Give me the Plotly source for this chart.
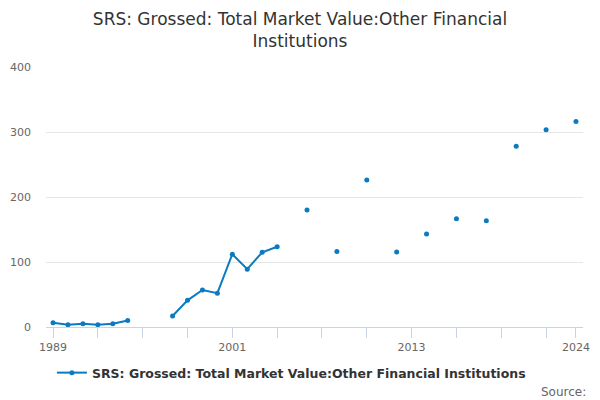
import plotly.graph_objects as go

years = list(range(1989, 2025))
values = [6.5, 3.5, 5, 3.5, 5, 10,
          None, None,
          17, 41, 57, 52, 112, 89, 115, 123.5,
          None, 180, None, 116, None, 226, None, 115.5, None, 143,
          None, 166.5, None, 163.5, None, 278, None, 303.5, None, 316]
tick_years = list(range(1989, 2023, 3)) + [2024]
tick_labels = [str(y) if y in (1989, 2001, 2013, 2024) else "" for y in tick_years]

name = "SRS: Grossed: Total Market Value:Other Financial Institutions"
blue = "#0a7bc1"

fig = go.Figure(go.Scatter(
    x=years, y=values, name=name,
    mode="lines+markers",
    line=dict(color=blue, width=2),
    marker=dict(color=blue, size=5),
    connectgaps=False,
))

fig.update_layout(
    width=600, height=400,
    paper_bgcolor="white", plot_bgcolor="white",
    font=dict(family="DejaVu Sans", color="#666666"),
    margin=dict(l=46, r=17, t=67, b=73, autoexpand=False),
    title=dict(
        text="SRS: Grossed: Total Market Value:Other Financial<br>Institutions",
        x=0.5, xanchor="center", y=0.938, yanchor="middle",
        font=dict(size=17, color="#333333"),
    ),
    showlegend=True,
    legend=dict(
        orientation="h", xref="container", yref="container",
        x=0.0865, xanchor="left", y=0.0675, yanchor="middle",
        itemwidth=30,
        font=dict(size=12.5, color="#333333", weight="bold"),
    ),
    xaxis=dict(
        range=[1988.53, 2024.47], automargin=False,
        tickmode="array", tickvals=tick_years, ticktext=tick_labels,
        ticks="outside", ticklen=10, tickcolor="#c8d3e4", tickwidth=1,
        showline=True, linecolor="#c8d3e4", linewidth=1,
        showgrid=False, zeroline=False,
        tickfont=dict(size=11, color="#666666"),
    ),
    yaxis=dict(
        range=[0, 400], tickvals=[0, 100, 200, 300, 400], automargin=False,
        showgrid=True, gridcolor="#e6e6e6", zeroline=False,
        ticklabelstandoff=14,
        tickfont=dict(size=11, color="#666666"),
    ),
    annotations=[dict(
        text="Source:", xref="paper", yref="paper",
        x=1.009, xanchor="right", y=-0.249, yanchor="middle",
        showarrow=False, font=dict(size=12, color="#666666"),
    )],
)

# the page body has a default 8px margin; drop it so the chart sits at 0,0
fig.write_html("out.html", config={"displayModeBar": False},
               post_script="document.body.style.margin='0';")
